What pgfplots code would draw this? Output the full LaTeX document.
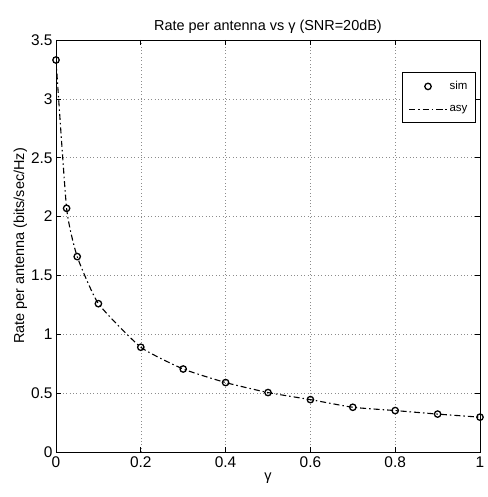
\documentclass[border=0pt]{standalone}
\usepackage{fontspec}
\setmainfont{Liberation Sans}
\usepackage{pgfplots}
\pgfplotsset{compat=1.18}
\begin{document}
\begin{tikzpicture}
\begin{axis}[
  at={(0,0)}, anchor=south west,
  scale only axis,
  width=424bp, height=412bp,
  xmin=0, xmax=1, ymin=0, ymax=3.5,
  xtick={0,0.2,0.4,0.6,0.8,1},
  ytick={0,0.5,1,1.5,2,2.5,3,3.5},
  xticklabels={0,0.2,0.4,0.6,0.8,1},
  yticklabels={0,0.5,1,1.5,2,2.5,3,3.5},
  grid=major,
  major grid style={dash pattern=on 0.8bp off 2.6bp, black!45, line width=0.5pt},
  axis line style={black, line width=1pt},
  tick style={black, line width=0.7pt},
  tick align=inside,
  major tick length=5bp,
  xtick pos=both, ytick pos=both,
  ticklabel style={font=\fontsize{15.5}{16}\selectfont},
  xticklabel style={yshift=-1bp},
  title={Rate per antenna vs γ (SNR=20dB)},
  title style={font=\fontsize{14.5}{16}\selectfont, yshift=-3bp},
  xlabel={γ},
  ylabel={Rate per antenna (bits/sec/Hz)},
  label style={font=\fontsize{14.5}{16}\selectfont},
  xlabel style={yshift=1bp},
  ylabel style={yshift=-3bp},
  legend style={at={(0.99,0.922)}, anchor=north east, draw=black, line width=0.8pt,
    font=\fontsize{11.5}{13}\selectfont, inner xsep=6bp, inner ysep=7bp, row sep=10bp,
    /tikz/every even column/.append style={column sep=2bp}},
  legend image code/.code={\draw[mark repeat=2, mark phase=2] plot coordinates {(0bp,0bp) (19bp,0bp) (38bp,0bp)};},
  legend cell align=left,
]
\addplot[only marks, mark=o, mark size=3.2bp, line width=1.3pt, black] coordinates {
(0,3.33) (0.025,2.07) (0.05,1.66) (0.1,1.26) (0.2,0.89) (0.3,0.705) (0.4,0.59)
(0.5,0.505) (0.6,0.445) (0.7,0.38) (0.8,0.352) (0.9,0.322) (1,0.296)
};
\addlegendentry{sim}
\addplot[black, line width=1.1pt, dash pattern=on 6bp off 3bp on 1.5bp off 3bp, smooth, tension=0.3] coordinates {
(0,3.33) (0.025,2.07) (0.05,1.66) (0.1,1.26) (0.2,0.89) (0.3,0.705) (0.4,0.59)
(0.5,0.505) (0.6,0.445) (0.7,0.38) (0.8,0.352) (0.9,0.322) (1,0.296)
};
\addlegendentry{asy}
\end{axis}
\path[use as bounding box] (-56bp,-45bp) rectangle (426bp,452bp);
\end{tikzpicture}
\end{document}
